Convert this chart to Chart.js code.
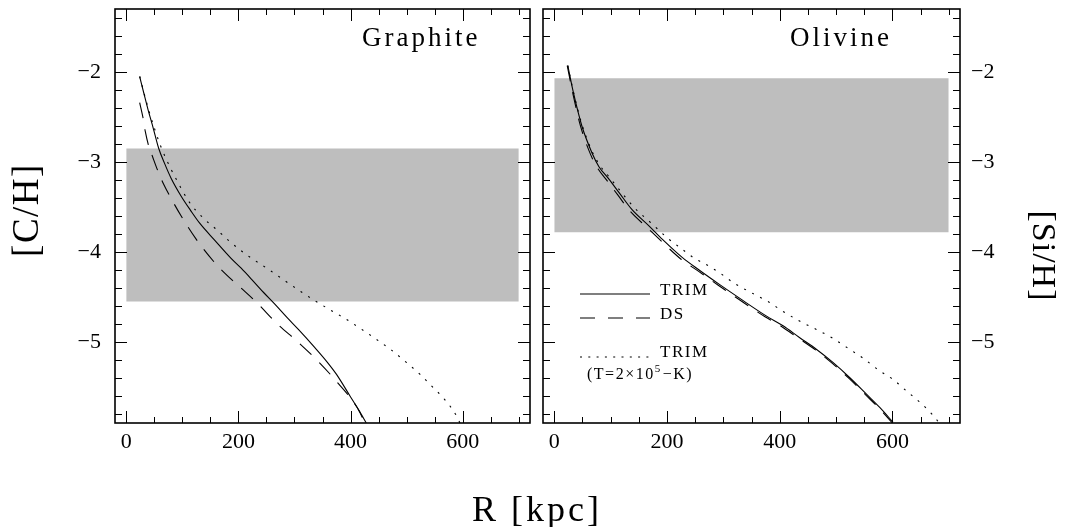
<!DOCTYPE html>
<html><head><meta charset="utf-8">
<script src="https://cdn.jsdelivr.net/npm/chart.js@4.4.0/dist/chart.umd.min.js"></script>
<style>
html,body{margin:0;padding:0;background:#fff;}
#wrap{position:relative;width:1065px;height:527px;overflow:hidden;background:#fff;}
canvas{position:absolute;left:0;top:0;}
</style></head><body>
<div id="wrap">
<canvas id="c1" width="1065" height="527" style="width:1065px;height:527px"></canvas>
<canvas id="c2" width="1065" height="527" style="width:1065px;height:527px"></canvas>
</div>
<script>
// ---------- data ----------
const xTickLabels = [0, 200, 400, 600];
const yTickLabels = [-5, -4, -3, -2];
const boxR = [0, 700];
const graphiteBox = [-4.55, -2.85];
const olivineBox = [-3.78, -2.07];

// Graphite panel
const gTrimR = [24, 32, 39, 48, 58, 68, 80, 98, 115, 131, 158, 187, 205, 226, 245, 265, 287, 307, 336, 358, 375, 399, 415, 428];
const gTrimV = [-2.05, -2.25, -2.42, -2.62, -2.85, -3.01, -3.18, -3.38, -3.54, -3.68, -3.87, -4.07, -4.18, -4.32, -4.45, -4.58, -4.73, -4.86, -5.06, -5.22, -5.36, -5.60, -5.76, -5.90];
const gDsR = [24, 30, 34, 40, 47.5, 56.5, 67, 77, 98, 125, 158, 185, 210, 234, 268, 308, 343, 378, 411, 426];
const gDsV = [-2.34, -2.51, -2.66, -2.82, -2.95, -3.10, -3.25, -3.37, -3.60, -3.86, -4.12, -4.29, -4.43, -4.57, -4.79, -5.01, -5.22, -5.46, -5.72, -5.90];
const gHotR = [24, 32, 40, 50, 60, 70, 89, 113, 137, 161, 184, 208, 226, 253, 283, 309, 336, 363, 393, 420, 446, 473, 500, 524, 548, 568, 589, 595];
const gHotV = [-2.05, -2.24, -2.42, -2.62, -2.80, -2.95, -3.19, -3.45, -3.62, -3.75, -3.88, -4.00, -4.08, -4.19, -4.32, -4.43, -4.54, -4.64, -4.75, -4.86, -4.97, -5.09, -5.23, -5.36, -5.51, -5.64, -5.82, -5.90];

// Olivine panel
const oTrimR = [24, 34, 49, 67, 79, 97, 115, 138, 168, 192, 227, 257, 293, 328, 376, 406, 435, 465, 495, 525, 554, 578, 601];
const oTrimV = [-1.93, -2.23, -2.60, -2.90, -3.05, -3.19, -3.34, -3.53, -3.71, -3.86, -4.06, -4.20, -4.36, -4.51, -4.71, -4.82, -4.95, -5.08, -5.23, -5.40, -5.58, -5.73, -5.89];
const oDsR = [23, 33, 47, 64, 76, 94, 112, 135, 165, 190, 225, 255, 291, 326, 374, 404, 434, 464, 494, 524, 553, 577, 600];
const oDsV = [-1.93, -2.24, -2.61, -2.91, -3.06, -3.21, -3.36, -3.55, -3.73, -3.88, -4.08, -4.21, -4.37, -4.52, -4.72, -4.83, -4.96, -5.09, -5.24, -5.41, -5.59, -5.74, -5.90];
const oHotR = [24, 34, 49, 67, 80, 98, 117, 141, 174, 200, 225, 251, 264, 293, 320, 349, 379, 406, 436, 465, 492, 519, 548, 575, 602, 626, 649, 673, 683];
const oHotV = [-1.93, -2.22, -2.58, -2.88, -3.03, -3.17, -3.32, -3.50, -3.69, -3.84, -3.96, -4.08, -4.12, -4.23, -4.35, -4.45, -4.55, -4.66, -4.77, -4.86, -4.95, -5.06, -5.18, -5.31, -5.42, -5.55, -5.67, -5.82, -5.90];

// ---------- helpers ----------
const SERIF = '"Liberation Serif", "DejaVu Serif", serif';
const fmt = v => (v < 0 ? '\u2212' + Math.abs(v) : String(v));

function curve(rs, vs, dash) {
  return {
    type: 'line',
    data: rs.map((r, i) => ({ x: r, y: vs[i] })),
    borderColor: '#000', borderWidth: 1.1, borderDash: dash,
    pointRadius: 0, fill: false, cubicInterpolationMode: 'monotone', order: 1
  };
}
function boxSets(box) {
  return [
    { type: 'line', data: boxR.map(r => ({ x: r, y: box[1] })), borderWidth: 0, borderColor: 'rgba(0,0,0,0)',
      pointRadius: 0, fill: '+1', backgroundColor: '#bebebe', order: 5 },
    { type: 'line', data: boxR.map(r => ({ x: r, y: box[0] })), borderWidth: 0, borderColor: 'rgba(0,0,0,0)',
      pointRadius: 0, fill: false, order: 5 }
  ];
}

const frameTicks = {
  id: 'frameTicks',
  afterDraw(chart) {
    const { ctx, chartArea: a, scales: { x, y } } = chart;
    ctx.save();
    ctx.strokeStyle = '#000';
    ctx.lineWidth = 1;
    ctx.beginPath();
    for (let v = 0; v <= 700; v += 50) {
      const px = Math.round(x.getPixelForValue(v)) + 0.5;
      const len = v % 200 === 0 ? 12 : 6;
      ctx.moveTo(px, a.bottom); ctx.lineTo(px, a.bottom - len);
      ctx.moveTo(px, a.top); ctx.lineTo(px, a.top + len);
    }
    for (let k = -29; k <= -7; k++) {
      const py = Math.round(y.getPixelForValue(k / 5)) + 0.5;
      const len = k % 5 === 0 ? 12 : 7;
      ctx.moveTo(a.left, py); ctx.lineTo(a.left + len, py);
      ctx.moveTo(a.right, py); ctx.lineTo(a.right - len, py);
    }
    ctx.stroke();
    ctx.lineWidth = 1.6;
    ctx.strokeRect(a.left, a.top, a.right - a.left, a.bottom - a.top);
    ctx.restore();
  }
};

function spaced(ctx, px) { if ('letterSpacing' in ctx) ctx.letterSpacing = px + 'px'; }

function panelTitle(text) {
  return {
    id: 'panelTitle',
    afterDraw(chart) {
      const { ctx, chartArea: a } = chart;
      ctx.save();
      ctx.fillStyle = '#000';
      ctx.font = '27px ' + SERIF;
      spaced(ctx, 3);
      ctx.textAlign = 'left'; ctx.textBaseline = 'alphabetic';
      ctx.fillText(text, a.left + 247, a.top + 37);
      ctx.restore();
    }
  };
}

const leftTexts = {
  id: 'leftTexts',
  afterDraw(chart) {
    const { ctx } = chart;
    ctx.save();
    ctx.fillStyle = '#000';
    ctx.font = '37px ' + SERIF;
    spaced(ctx, 1.5);
    ctx.textAlign = 'center'; ctx.textBaseline = 'middle';
    ctx.translate(28, 210); ctx.rotate(-Math.PI / 2);
    ctx.fillText('[C/H]', 0, 0);
    ctx.restore();
    ctx.save();
    ctx.fillStyle = '#000';
    ctx.font = '36px ' + SERIF;
    spaced(ctx, 3);
    ctx.textAlign = 'center'; ctx.textBaseline = 'alphabetic';
    ctx.fillText('R [kpc]', 537, 521);
    ctx.restore();
  }
};

const rightTexts = {
  id: 'rightTexts',
  afterDraw(chart) {
    const { ctx, chartArea: a } = chart;
    ctx.save();
    ctx.fillStyle = '#000';
    ctx.font = '34px ' + SERIF;
    spaced(ctx, 1);
    ctx.textAlign = 'center'; ctx.textBaseline = 'middle';
    ctx.translate(1042, 256); ctx.rotate(Math.PI / 2);
    ctx.fillText('[Si/H]', 0, 0);
    ctx.restore();

    // legend
    const L = a.left, T = a.top;
    ctx.save();
    ctx.strokeStyle = '#000'; ctx.lineWidth = 1.1;
    const seg = (yy, dash) => { ctx.setLineDash(dash); ctx.beginPath(); ctx.moveTo(L + 37, yy); ctx.lineTo(L + 107, yy); ctx.stroke(); };
    seg(T + 285, []);
    seg(T + 309, [15, 13]);
    seg(T + 348, [2, 6.3]);
    ctx.setLineDash([]);
    ctx.fillStyle = '#000';
    ctx.font = '17px ' + SERIF;
    spaced(ctx, 1.5);
    ctx.textAlign = 'left'; ctx.textBaseline = 'alphabetic';
    ctx.fillText('TRIM', L + 117, T + 286);
    ctx.fillText('DS', L + 117, T + 310);
    ctx.fillText('TRIM', L + 117, T + 348);
    let xx = L + 44;
    const yb = T + 370;
    const p1 = '(T=2\u00d710';
    ctx.font = '16px ' + SERIF;
    ctx.fillText(p1, xx, yb);
    xx += ctx.measureText(p1).width;
    ctx.font = '11px ' + SERIF;
    ctx.fillText('5', xx, yb - 7);
    xx += ctx.measureText('5').width + 1;
    ctx.font = '16px ' + SERIF;
    ctx.fillText('\u2212K)', xx, yb);
    ctx.restore();
  }
};

function makeChart(id, side, datasets, plugins) {
  const tickFont = { family: SERIF, size: 22 };
  return new Chart(document.getElementById(id), {
    type: 'line',
    data: { datasets },
    options: {
      responsive: false, animation: false, devicePixelRatio: 1,
      layout: { padding: side === 'left' ? { left: 0, right: 535, top: 9, bottom: 0 } : { left: 543, right: 0, top: 9, bottom: 0 } },
      plugins: { legend: { display: false }, tooltip: { enabled: false }, title: { display: false } },
      scales: {
        x: {
          type: 'linear', min: -20, max: 720, position: 'bottom',
          afterBuildTicks: ax => { ax.ticks = xTickLabels.map(v => ({ value: v })); },
          afterFit: ax => { ax.height = 104; ax.paddingLeft = 0; ax.paddingRight = 0; },
          grid: { display: false, drawTicks: false }, border: { display: false },
          ticks: { font: tickFont, color: '#000', padding: 6, maxRotation: 0, autoSkip: false, callback: v => fmt(v) }
        },
        y: {
          type: 'linear', min: -5.9, max: -1.3, position: side === 'left' ? 'left' : 'right',
          afterBuildTicks: ax => { ax.ticks = yTickLabels.map(v => ({ value: v })); },
          afterFit: ax => { ax.width = side === 'left' ? 115 : 105; ax.paddingTop = 0; ax.paddingBottom = 0; },
          grid: { display: false, drawTicks: false }, border: { display: false },
          ticks: { font: tickFont, color: '#000', padding: side === 'left' ? 14 : 11, autoSkip: false, callback: v => fmt(v) }
        }
      }
    },
    plugins
  });
}

makeChart('c1', 'left', [
  ...boxSets(graphiteBox),
  curve(gTrimR, gTrimV, []),
  curve(gDsR, gDsV, [16, 11]),
  curve(gHotR, gHotV, [2, 7])
], [frameTicks, panelTitle('Graphite'), leftTexts]);

makeChart('c2', 'right', [
  ...boxSets(olivineBox),
  curve(oTrimR, oTrimV, []),
  curve(oDsR, oDsV, [16, 11]),
  curve(oHotR, oHotV, [2, 7])
], [frameTicks, panelTitle('Olivine'), rightTexts]);
</script>
</body></html>
